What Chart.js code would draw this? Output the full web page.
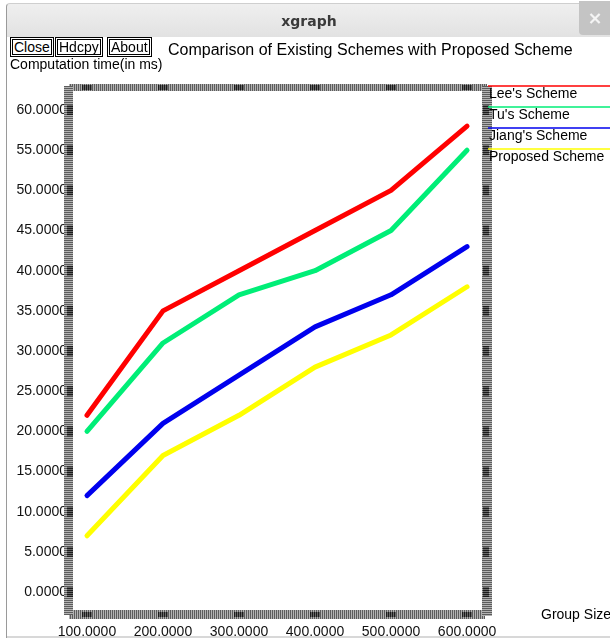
<!DOCTYPE html>
<html>
<head>
<meta charset="utf-8">
<title>xgraph</title>
<script src="https://cdn.jsdelivr.net/npm/chart.js@4/dist/chart.umd.min.js"></script>
<style>
  html, body { margin: 0; padding: 0; background: #fff; }
  body { width: 610px; height: 638px; position: relative; overflow: hidden; font-family: "Liberation Sans", Arial, sans-serif; }
  #grafico { position: absolute; left: 0; top: 0; }
  .barra { position: absolute; left: 6px; top: 3px; width: 604px; height: 33px; background: linear-gradient(#efefef, #e2e2e2); border-left: 1px solid #9a9a9a; border-top: 1px solid #cfcfcf; border-radius: 4px 0 0 0; }
  .barra .nombre { position: absolute; left: 0; right: 0; top: 9px; text-align: center; font: bold 14px "DejaVu Sans", sans-serif; color: #3a3a3a; }
  .barra .cerrar { position: absolute; right: 0; top: -3px; width: 32px; height: 34px; background: #c4c4c4; border-radius: 0 0 0 4px; color: #f4f4f4; font: bold 18px "DejaVu Sans", sans-serif; text-align: center; line-height: 34px; }
  .borde { position: absolute; left: 6px; top: 36px; width: 1px; height: 602px; background: #9a9a9a; }
  .boton { position: absolute; top: 37px; height: 18px; border: 1px solid #000; box-shadow: inset 0 0 0 1px #fff, inset 0 0 0 2px #000; font-size: 14px; line-height: 18px; padding: 0 3px; color: #000; background: #fff; }
  .texto { position: absolute; color: #000; white-space: nowrap; }
  .pie { position: absolute; left: 7px; top: 636px; width: 603px; height: 2px; background: #d8d8d8; }
</style>
</head>
<body>
<canvas id="grafico" width="610" height="638"></canvas>
<div class="barra"><div class="nombre">xgraph</div><div class="cerrar">×</div></div>
<div class="borde"></div>
<div class="boton" style="left:10px">Close</div>
<div class="boton" style="left:55px">Hdcpy</div>
<div class="boton" style="left:107px">About</div>
<div class="texto" style="left:168px; top:41px; font-size:16px;">Comparison of Existing Schemes with Proposed Scheme</div>
<div class="texto" style="left:10px; top:56px; font-size:14px;">Computation time(in ms)</div>
<div class="texto" style="left:541px; top:606px; font-size:14px;">Group Size</div>
<div class="pie"></div>
<script>
// Datos del gráfico
const tamanosGrupo = [100, 200, 300, 400, 500, 600];
const esquemaLee = [22, 35, 40, 45, 50, 58];
const esquemaTu = [20, 31, 37, 40, 45, 55];
const esquemaJiang = [12, 21, 27, 33, 37, 43];
const esquemaPropuesto = [7, 17, 22, 28, 32, 38];
const ticksX = [100, 200, 300, 400, 500, 600];
const ticksY = [0, 5, 10, 15, 20, 25, 30, 35, 40, 45, 50, 55, 60];

const series = [
    { label: "Lee's Scheme", datos: esquemaLee, color: '#ff0000' },
    { label: "Tu's Scheme", datos: esquemaTu, color: '#00ee77' },
    { label: "Jiang's Scheme", datos: esquemaJiang, color: '#0000ee' },
    { label: 'Proposed Scheme', datos: esquemaPropuesto, color: '#ffff00' }
];

// Patrón rayado para el marco estilo xgraph
function crearPatron(ctx, horizontal, oscuro, claro) {
    const c = document.createElement('canvas');
    c.width = horizontal ? 1 : 2;
    c.height = horizontal ? 2 : 1;
    const g = c.getContext('2d');
    g.fillStyle = claro;
    g.fillRect(0, 0, c.width, c.height);
    g.fillStyle = oscuro;
    g.fillRect(0, 0, 1, 1);
    return ctx.createPattern(c, 'repeat');
}

// Plugin: marco, marcas de ejes y leyenda
const marcoXgraph = {
    id: 'marcoXgraph',
    afterDraw(chart) {
        const ctx = chart.ctx;
        const a = chart.chartArea;
        const sx = chart.scales.x;
        const sy = chart.scales.y;
        const rayaH = crearPatron(ctx, true, '#5c5c5c', '#b2b2b2');
        const rayaV = crearPatron(ctx, false, '#5c5c5c', '#b2b2b2');
        const marcaH = crearPatron(ctx, true, '#1c1c1c', '#6a6a6a');
        const marcaV = crearPatron(ctx, false, '#1c1c1c', '#6a6a6a');
        ctx.save();
        // bordes
        ctx.fillStyle = rayaV;
        ctx.fillRect(a.left - 4, a.top - 7, a.right - a.left + 8, 7);
        ctx.fillRect(a.left - 4, a.bottom, a.right - a.left + 6, 9);
        ctx.fillStyle = rayaH;
        ctx.fillRect(a.left - 9, a.top - 5, 9, a.bottom - a.top + 10);
        ctx.fillRect(a.right - 1, a.top - 5, 10, a.bottom - a.top + 11);
        // marcas en X
        ctx.fillStyle = marcaV;
        sx.ticks.forEach(t => {
            const x = sx.getPixelForValue(t.value);
            ctx.fillRect(x - 5, a.top - 6, 10, 5);
            ctx.fillRect(x - 5, a.bottom + 2, 10, 5);
        });
        // marcas en Y
        ctx.fillStyle = marcaH;
        sy.ticks.forEach(t => {
            const y = sy.getPixelForValue(t.value);
            ctx.fillRect(a.left - 6, y - 5, 6, 10);
            ctx.fillRect(a.right, y - 5, 6, 10);
        });
        // leyenda
        ctx.font = '14px "Liberation Sans", Arial, sans-serif';
        ctx.textBaseline = 'middle';
        chart.data.datasets.forEach((ds, i) => {
            const y = 86 + 21 * i;
            ctx.strokeStyle = ds.borderColor;
            ctx.lineWidth = 1.5;
            ctx.beginPath();
            ctx.moveTo(488, y);
            ctx.lineTo(610, y);
            ctx.stroke();
            ctx.fillStyle = '#000';
            ctx.fillText(ds.label, 489, y + 8);
        });
        ctx.restore();
    }
};

new Chart(document.getElementById('grafico'), {
    type: 'line',
    data: {
        datasets: series.map(s => ({
            label: s.label,
            data: tamanosGrupo.map((x, i) => ({ x: x, y: s.datos[i] })),
            borderColor: s.color,
            backgroundColor: s.color,
            borderWidth: 5,
            borderCapStyle: 'round',
            borderJoinStyle: 'round',
            pointRadius: 0,
            tension: 0
        }))
    },
    options: {
        responsive: false,
        animation: false,
        devicePixelRatio: 1,
        layout: { padding: { left: 0, top: 91, right: 127, bottom: 0 } },
        plugins: { legend: { display: false }, tooltip: { enabled: false } },
        scales: {
            x: {
                type: 'linear',
                min: 81.6,
                max: 621,
                afterBuildTicks: s => { s.ticks = ticksX.map(v => ({ value: v })); },
                afterFit: s => { s.height = 28; },
                grid: { display: false, drawTicks: false },
                border: { display: false },
                ticks: {
                    padding: 14,
                    color: '#111',
                    font: { family: '"Liberation Sans", Arial, sans-serif', size: 14 },
                    callback: v => v.toFixed(4)
                }
            },
            y: {
                type: 'linear',
                min: -2.24,
                max: 62.37,
                afterBuildTicks: s => { s.ticks = ticksY.map(v => ({ value: v })); },
                afterFit: s => { s.width = 73; },
                grid: { display: false, drawTicks: false },
                border: { display: false },
                ticks: {
                    padding: 6,
                    color: '#111',
                    font: { family: '"Liberation Sans", Arial, sans-serif', size: 14 },
                    callback: v => v.toFixed(4)
                }
            }
        }
    },
    plugins: [marcoXgraph]
});
</script>
</body>
</html>
